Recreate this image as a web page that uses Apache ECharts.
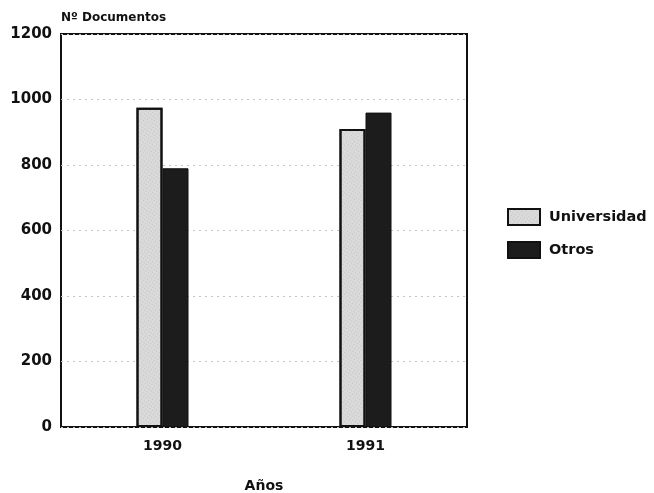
<!DOCTYPE html>
<html><head><meta charset="utf-8">
<script src="https://cdn.jsdelivr.net/npm/echarts@6/dist/echarts.min.js"></script>
<style>html,body{margin:0;padding:0;background:#fff}#c{width:654px;height:493px}</style>
</head><body><div id="c"></div>
<script>
const categories = ['1990', '1991'];
const universidad = [975, 910];
const otros = [790, 960];
const yTicks = [0, 200, 400, 600, 800, 1000, 1200];

const chart = echarts.init(document.getElementById('c'), null, {renderer: 'canvas'});
const font = 'DejaVu Sans, Liberation Sans, sans-serif';
chart.setOption({
  backgroundColor: '#fff',
  animation: false,
  grid: {left: 61, right: 187, top: 34, bottom: 66, show: true, borderColor: '#111', borderWidth: 2, backgroundColor: 'transparent',
    containLabel: false, outerBoundsMode: 'none'},
  legend: {
    orient: 'vertical', left: 502, top: 203, itemWidth: 32, itemHeight: 16, itemGap: 15,
    icon: 'rect',
    textStyle: {fontFamily: font, fontWeight: 'bold', fontSize: 14.5, color: '#111', padding: [0,0,0,4]},
    data: ['Universidad', 'Otros']
  },
  xAxis: {
    type: 'category', data: categories,
    name: 'Años', nameLocation: 'middle', nameGap: 52,
    nameTextStyle: {fontFamily: font, fontWeight: 'bold', fontSize: 14, color: '#111'},
    axisLine: {show: false}, axisTick: {show: false},
    axisLabel: {fontFamily: font, fontWeight: 'bold', fontSize: 14, color: '#111', margin: 12}
  },
  yAxis: {
    type: 'value', min: 0, max: 1200, interval: 200,
    name: 'Nº Documentos', nameLocation: 'end', nameGap: 10,
    nameTextStyle: {fontFamily: font, fontWeight: 'bold', fontSize: 12, color: '#111', align: 'left'},
    axisLine: {show: false}, axisTick: {show: false},
    axisLabel: {fontFamily: font, fontWeight: 'bold', fontSize: 15, color: '#111', margin: 9,
      formatter: v => yTicks.includes(v) ? String(v) : ''},
    splitLine: {show: true, lineStyle: {color: '#c4c4c4', type: [2, 4], width: 1}}
  },
  series: [
    {name: 'Universidad', type: 'bar', data: universidad, barWidth: 26, barGap: '0%',
      itemStyle: {color: '#dadada', borderColor: '#111', borderWidth: 2,
        decal: {symbol: 'rect', symbolSize: 0.5, color: 'rgba(40,40,40,0.55)', dashArrayX: [1, 2], dashArrayY: [1, 2], rotation: 0.6}}},
    {name: 'Otros', type: 'bar', data: otros, barWidth: 26,
      itemStyle: {color: '#1c1c1c', borderColor: '#111', borderWidth: 1}}
  ],
  aria: {enabled: false, decal: {show: true}}
});
</script></body></html>
